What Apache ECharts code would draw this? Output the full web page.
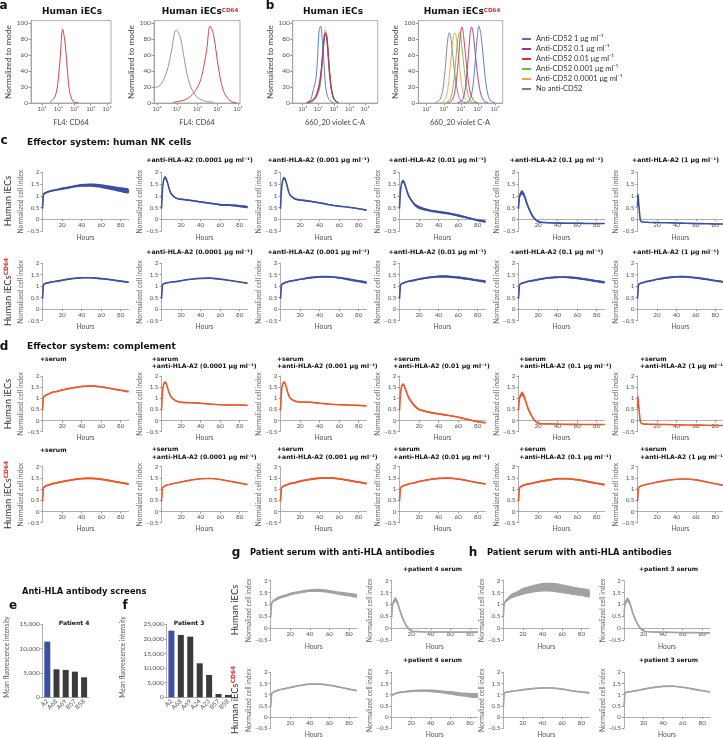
<!DOCTYPE html>
<html>
<head>
<meta charset="utf-8">
<script src="https://cdn.jsdelivr.net/npm/echarts@6/dist/echarts.min.js"></script>
<style>html,body{margin:0;padding:0;background:#fff}#main{width:723px;height:738px}</style>
</head>
<body>
<div id="main"></div>
<script>
// ---- a: CD64 staining, x = log10 fluorescence, y = % of mode
var aIecX = [1.49, 1.8, 2.0, 2.15, 2.27, 2.42, 2.58, 2.72, 2.93, 3.25];
var aIecY = [1, 8, 29, 66, 92, 75, 37, 12, 2, 0];
var aCdGreyX = [-0.15, 0.15, 0.48, 0.72, 0.94, 1.14, 1.3, 1.55, 1.88, 2.29, 2.78];
var aCdGreyY = [19, 22, 39, 66, 91, 83, 62, 29, 10, 3, 1];
var aCdRedX = [0.8, 1.47, 1.96, 2.2, 2.45, 2.62, 2.78, 3.03, 3.27, 3.6, 3.94];
var aCdRedY = [1, 5, 18, 33, 66, 96, 87, 45, 16, 3, 0];

// ---- b: anti-CD52 binding (blue, purple, red, green, orange, grey)
var cd52Names = ['Anti-CD52 1 \u03bcg ml\u207b\u00b9', 'Anti-CD52 0.1 \u03bcg ml\u207b\u00b9', 'Anti-CD52 0.01 \u03bcg ml\u207b\u00b9',
  'Anti-CD52 0.001 \u03bcg ml\u207b\u00b9', 'Anti-CD52 0.0001 \u03bcg ml\u207b\u00b9', 'No anti-CD52'];
var cd52Colors = ['#4a78b8', '#a2308f', '#cf3340', '#6cb84c', '#f0a04e', '#808080'];
var bIecX = [
  [1.2, 1.5, 1.7, 1.85, 1.95, 2.05, 2.15, 2.25, 2.35, 2.45, 2.6, 2.8, 3.0],
  [1.3, 1.7, 1.9, 2.1, 2.25, 2.35, 2.45, 2.55, 2.65, 2.8, 3.0, 3.3],
  [1.3, 1.7, 1.9, 2.1, 2.25, 2.35, 2.45, 2.55, 2.65, 2.8, 3.0, 3.3],
  [1.3, 1.7, 1.9, 2.1, 2.25, 2.35, 2.45, 2.55, 2.65, 2.8, 3.0, 3.3],
  [1.3, 1.7, 1.9, 2.1, 2.25, 2.35, 2.45, 2.55, 2.65, 2.8, 3.0, 3.3],
  [1.3, 1.7, 1.9, 2.1, 2.25, 2.35, 2.45, 2.55, 2.65, 2.8, 3.0, 3.3]
];
var bIecY = [
  [0, 4, 18, 30, 55, 90, 96, 80, 55, 25, 8, 2, 0],
  [0, 5, 12, 28, 55, 75, 88, 80, 55, 22, 5, 0],
  [0, 4, 10, 25, 52, 78, 86, 85, 60, 25, 6, 0],
  [0, 3, 9, 22, 50, 75, 88, 82, 58, 24, 5, 0],
  [0, 3, 9, 24, 55, 82, 92, 78, 50, 20, 4, 0],
  [0, 3, 8, 20, 48, 72, 85, 80, 55, 22, 5, 0]
];
var bCdX = [
  [3.2, 3.5, 3.7, 3.85, 3.97, 4.05, 4.18, 4.32, 4.5, 4.7, 5.0],
  [2.8, 3.1, 3.3, 3.45, 3.55, 3.63, 3.75, 3.9, 4.1, 4.3, 4.6],
  [2.2, 2.5, 2.7, 2.88, 2.98, 3.06, 3.18, 3.33, 3.52, 3.75, 4.0],
  [2.1, 2.4, 2.6, 2.75, 2.86, 2.94, 3.05, 3.2, 3.4, 3.6, 3.9],
  [1.8, 2.1, 2.3, 2.45, 2.57, 2.66, 2.78, 2.93, 3.12, 3.35, 3.7],
  [1.5, 1.8, 2.0, 2.15, 2.25, 2.33, 2.45, 2.6, 2.8, 3.0, 3.3]
];
var bCdY = [
  [0, 3, 20, 55, 85, 96, 85, 55, 20, 4, 0],
  [0, 4, 25, 62, 88, 95, 82, 50, 18, 4, 0],
  [0, 4, 22, 60, 88, 95, 80, 48, 16, 3, 0],
  [0, 6, 30, 65, 85, 88, 72, 42, 12, 2, 0],
  [0, 5, 28, 62, 84, 88, 74, 44, 14, 3, 0],
  [0, 5, 25, 60, 82, 88, 75, 45, 15, 3, 0]
];

// ---- c/d/g/h: impedance, normalized cell index vs hours
var hrs = [0, 0.5, 1, 2, 3, 4, 6, 8, 10, 15, 20, 30, 40, 50, 60, 70, 80, 88];
var doses = ['0.0001', '0.001', '0.01', '0.1', '1'];

// c, NK cells, human iECs (no antibody, then doses)
var nkIecMean = [
  [0.45, 0.75, 1.05, 1.1, 1.12, 1.14, 1.17, 1.2, 1.22, 1.26, 1.3, 1.38, 1.44, 1.45, 1.41, 1.34, 1.26, 1.2],
  [0.45, 0.9, 1.3, 1.62, 1.76, 1.78, 1.58, 1.28, 1.08, 0.9, 0.85, 0.8, 0.74, 0.68, 0.62, 0.6, 0.56, 0.52],
  [0.45, 0.9, 1.28, 1.6, 1.73, 1.75, 1.55, 1.22, 1.02, 0.86, 0.82, 0.77, 0.7, 0.62, 0.56, 0.51, 0.45, 0.39],
  [0.45, 0.85, 1.2, 1.5, 1.6, 1.62, 1.42, 1.15, 0.95, 0.65, 0.5, 0.38, 0.31, 0.25, 0.16, 0.06, -0.04, -0.1],
  [0.45, 0.75, 0.95, 1.08, 1.13, 1.14, 1.0, 0.75, 0.52, 0.1, -0.1, -0.15, -0.16, -0.17, -0.17, -0.18, -0.18, -0.18],
  [0.55, 1.05, 0.8, 0.3, -0.05, -0.1, -0.12, -0.13, -0.13, -0.14, -0.14, -0.15, -0.16, -0.17, -0.18, -0.19, -0.2, -0.2]
];
var nkIecErr = [
  [0.05, 0.1, 0.05, 0.04, 0.04, 0.04, 0.04, 0.04, 0.04, 0.04, 0.05, 0.05, 0.06, 0.07, 0.08, 0.09, 0.1, 0.1],
  [0.05, 0.06, 0.06, 0.06, 0.06, 0.06, 0.05, 0.05, 0.04, 0.03, 0.03, 0.03, 0.03, 0.03, 0.04, 0.04, 0.05, 0.05],
  [0.05, 0.06, 0.06, 0.06, 0.06, 0.06, 0.05, 0.04, 0.03, 0.03, 0.03, 0.03, 0.03, 0.02, 0.02, 0.02, 0.02, 0.02],
  [0.05, 0.07, 0.07, 0.07, 0.07, 0.07, 0.07, 0.07, 0.06, 0.06, 0.06, 0.05, 0.05, 0.05, 0.05, 0.04, 0.04, 0.04],
  [0.08, 0.1, 0.1, 0.1, 0.1, 0.1, 0.1, 0.1, 0.08, 0.06, 0.03, 0.02, 0.02, 0.02, 0.02, 0.02, 0.02, 0.02],
  [0.1, 0.08, 0.08, 0.05, 0.03, 0.02, 0.01, 0.01, 0.01, 0.01, 0.01, 0.01, 0.01, 0.01, 0.01, 0.01, 0.01, 0.01]
];
// c, NK cells, human iECs CD64
var nkCdMean = [
  [0.45, 0.75, 1.05, 1.1, 1.12, 1.13, 1.15, 1.17, 1.19, 1.22, 1.26, 1.33, 1.37, 1.37, 1.33, 1.28, 1.22, 1.17],
  [0.45, 0.75, 1.05, 1.1, 1.12, 1.13, 1.15, 1.16, 1.18, 1.2, 1.24, 1.3, 1.34, 1.35, 1.31, 1.25, 1.18, 1.13],
  [0.45, 0.75, 1.05, 1.1, 1.12, 1.14, 1.17, 1.2, 1.22, 1.26, 1.3, 1.37, 1.41, 1.41, 1.37, 1.3, 1.22, 1.16],
  [0.45, 0.75, 1.05, 1.1, 1.12, 1.14, 1.17, 1.2, 1.22, 1.26, 1.31, 1.38, 1.42, 1.42, 1.38, 1.32, 1.25, 1.2],
  [0.45, 0.75, 1.05, 1.1, 1.12, 1.14, 1.16, 1.19, 1.21, 1.25, 1.29, 1.36, 1.39, 1.39, 1.35, 1.29, 1.22, 1.17],
  [0.45, 0.75, 1.05, 1.1, 1.12, 1.14, 1.16, 1.19, 1.21, 1.25, 1.3, 1.37, 1.41, 1.41, 1.37, 1.31, 1.24, 1.19]
];
var nkCdErr = [
  [0.05, 0.08, 0.04, 0.03, 0.03, 0.03, 0.03, 0.03, 0.03, 0.03, 0.03, 0.03, 0.03, 0.03, 0.03, 0.03, 0.03, 0.03],
  [0.05, 0.08, 0.03, 0.02, 0.02, 0.02, 0.02, 0.02, 0.02, 0.02, 0.02, 0.02, 0.02, 0.02, 0.02, 0.02, 0.02, 0.02],
  [0.05, 0.08, 0.04, 0.03, 0.03, 0.03, 0.03, 0.03, 0.03, 0.03, 0.03, 0.04, 0.04, 0.04, 0.04, 0.05, 0.05, 0.05],
  [0.05, 0.08, 0.04, 0.03, 0.03, 0.03, 0.03, 0.03, 0.03, 0.04, 0.04, 0.04, 0.05, 0.05, 0.05, 0.05, 0.05, 0.05],
  [0.05, 0.08, 0.04, 0.03, 0.03, 0.03, 0.03, 0.03, 0.03, 0.04, 0.04, 0.04, 0.04, 0.04, 0.05, 0.05, 0.05, 0.05],
  [0.05, 0.08, 0.04, 0.03, 0.03, 0.03, 0.03, 0.03, 0.03, 0.03, 0.03, 0.04, 0.04, 0.04, 0.04, 0.04, 0.04, 0.04]
];
// d, complement, human iECs
var cmIecMean = [
  [0.45, 0.75, 1.03, 1.1, 1.13, 1.15, 1.19, 1.23, 1.27, 1.31, 1.37, 1.46, 1.53, 1.55, 1.51, 1.44, 1.36, 1.3],
  [0.45, 0.9, 1.3, 1.6, 1.7, 1.72, 1.5, 1.22, 1.05, 0.88, 0.82, 0.8, 0.78, 0.74, 0.71, 0.7, 0.7, 0.68],
  [0.45, 0.9, 1.3, 1.6, 1.7, 1.72, 1.48, 1.18, 1.0, 0.87, 0.83, 0.82, 0.78, 0.74, 0.71, 0.7, 0.68, 0.66],
  [0.45, 0.85, 1.2, 1.5, 1.6, 1.62, 1.42, 1.18, 0.98, 0.68, 0.5, 0.38, 0.3, 0.23, 0.15, 0.05, -0.05, -0.1],
  [0.45, 0.8, 1.0, 1.12, 1.18, 1.2, 1.05, 0.78, 0.52, 0.1, -0.12, -0.15, -0.16, -0.17, -0.17, -0.18, -0.18, -0.18],
  [0.55, 1.08, 0.8, 0.3, -0.05, -0.13, -0.15, -0.16, -0.16, -0.17, -0.17, -0.18, -0.19, -0.2, -0.2, -0.21, -0.22, -0.22]
];
var cmIecErr = [
  [0.05, 0.1, 0.04, 0.03, 0.03, 0.03, 0.03, 0.03, 0.03, 0.03, 0.03, 0.03, 0.03, 0.03, 0.03, 0.03, 0.03, 0.03],
  [0.05, 0.06, 0.05, 0.05, 0.05, 0.05, 0.04, 0.04, 0.03, 0.03, 0.03, 0.02, 0.02, 0.02, 0.02, 0.02, 0.02, 0.02],
  [0.05, 0.06, 0.05, 0.05, 0.05, 0.05, 0.04, 0.04, 0.03, 0.03, 0.03, 0.03, 0.02, 0.02, 0.02, 0.02, 0.02, 0.02],
  [0.05, 0.06, 0.06, 0.06, 0.06, 0.06, 0.06, 0.05, 0.05, 0.05, 0.04, 0.04, 0.04, 0.03, 0.03, 0.03, 0.03, 0.03],
  [0.08, 0.1, 0.1, 0.1, 0.1, 0.1, 0.1, 0.09, 0.08, 0.05, 0.02, 0.02, 0.02, 0.02, 0.02, 0.02, 0.02, 0.02],
  [0.1, 0.08, 0.08, 0.05, 0.03, 0.02, 0.01, 0.01, 0.01, 0.01, 0.01, 0.01, 0.01, 0.01, 0.01, 0.01, 0.01, 0.01]
];
// d, complement, human iECs CD64
var cmCdMean = [
  [0.45, 0.75, 1.05, 1.1, 1.13, 1.15, 1.18, 1.21, 1.24, 1.28, 1.33, 1.41, 1.47, 1.48, 1.44, 1.37, 1.29, 1.23],
  [0.45, 0.75, 1.05, 1.1, 1.13, 1.15, 1.18, 1.21, 1.23, 1.27, 1.32, 1.4, 1.46, 1.47, 1.43, 1.35, 1.27, 1.2],
  [0.45, 0.75, 1.05, 1.1, 1.13, 1.15, 1.18, 1.22, 1.25, 1.29, 1.35, 1.43, 1.49, 1.5, 1.46, 1.39, 1.31, 1.25],
  [0.45, 0.75, 1.05, 1.1, 1.13, 1.15, 1.18, 1.21, 1.24, 1.28, 1.34, 1.42, 1.48, 1.49, 1.45, 1.37, 1.29, 1.23],
  [0.45, 0.75, 1.05, 1.1, 1.13, 1.15, 1.18, 1.21, 1.23, 1.27, 1.32, 1.4, 1.46, 1.46, 1.42, 1.34, 1.26, 1.2],
  [0.45, 0.75, 1.05, 1.1, 1.13, 1.15, 1.17, 1.2, 1.22, 1.26, 1.31, 1.39, 1.44, 1.45, 1.41, 1.33, 1.24, 1.17]
];
var cmCdErr = [
  [0.05, 0.1, 0.04, 0.04, 0.04, 0.04, 0.04, 0.04, 0.04, 0.04, 0.04, 0.04, 0.04, 0.04, 0.04, 0.04, 0.04, 0.04],
  [0.05, 0.1, 0.03, 0.02, 0.02, 0.02, 0.02, 0.02, 0.02, 0.02, 0.02, 0.02, 0.02, 0.02, 0.02, 0.02, 0.02, 0.02],
  [0.05, 0.1, 0.04, 0.04, 0.04, 0.04, 0.04, 0.04, 0.04, 0.04, 0.04, 0.04, 0.04, 0.04, 0.04, 0.04, 0.04, 0.04],
  [0.05, 0.1, 0.03, 0.03, 0.03, 0.03, 0.03, 0.03, 0.03, 0.03, 0.03, 0.03, 0.03, 0.03, 0.03, 0.03, 0.03, 0.03],
  [0.05, 0.1, 0.04, 0.04, 0.04, 0.04, 0.04, 0.04, 0.04, 0.04, 0.04, 0.04, 0.04, 0.04, 0.04, 0.04, 0.04, 0.04],
  [0.05, 0.1, 0.03, 0.02, 0.02, 0.02, 0.02, 0.02, 0.02, 0.02, 0.02, 0.02, 0.02, 0.02, 0.02, 0.02, 0.02, 0.02]
];
// g (patient 4) and h (patient 3): [no serum, +serum] for iECs then iECs CD64
var gIecMean = [
  [0.45, 0.8, 1.05, 1.12, 1.15, 1.18, 1.23, 1.27, 1.31, 1.36, 1.44, 1.52, 1.58, 1.59, 1.54, 1.47, 1.41, 1.36],
  [0.45, 0.8, 1.0, 1.12, 1.18, 1.2, 1.08, 0.8, 0.55, 0.1, -0.12, -0.15, -0.16, -0.16, -0.17, -0.17, -0.17, -0.17]
];
var gIecErr = [
  [0.05, 0.1, 0.05, 0.05, 0.05, 0.05, 0.06, 0.06, 0.06, 0.06, 0.06, 0.06, 0.06, 0.07, 0.07, 0.07, 0.08, 0.08],
  [0.08, 0.1, 0.1, 0.1, 0.1, 0.1, 0.1, 0.09, 0.08, 0.05, 0.02, 0.02, 0.02, 0.02, 0.02, 0.02, 0.02, 0.02]
];
var gCdMean = [
  [0.45, 0.75, 1.05, 1.1, 1.12, 1.14, 1.17, 1.2, 1.23, 1.27, 1.32, 1.41, 1.47, 1.47, 1.42, 1.34, 1.25, 1.18],
  [0.95, 0.98, 1.0, 1.02, 1.04, 1.06, 1.08, 1.1, 1.12, 1.14, 1.16, 1.18, 1.17, 1.13, 1.08, 1.02, 0.98, 0.96]
];
var gCdErr = [
  [0.05, 0.1, 0.03, 0.03, 0.03, 0.03, 0.03, 0.03, 0.03, 0.03, 0.03, 0.03, 0.03, 0.03, 0.03, 0.03, 0.03, 0.03],
  [0.05, 0.05, 0.04, 0.04, 0.04, 0.04, 0.04, 0.04, 0.04, 0.04, 0.05, 0.05, 0.06, 0.07, 0.08, 0.09, 0.1, 0.1]
];
var hIecMean = [
  [0.45, 0.8, 1.05, 1.12, 1.16, 1.2, 1.28, 1.34, 1.38, 1.46, 1.55, 1.65, 1.72, 1.72, 1.66, 1.59, 1.52, 1.46],
  [0.45, 0.8, 1.0, 1.12, 1.18, 1.19, 1.05, 0.78, 0.52, 0.1, -0.12, -0.16, -0.17, -0.18, -0.19, -0.19, -0.2, -0.2]
];
var hIecErr = [
  [0.05, 0.1, 0.06, 0.06, 0.07, 0.08, 0.09, 0.1, 0.11, 0.12, 0.14, 0.16, 0.18, 0.19, 0.19, 0.18, 0.17, 0.16],
  [0.08, 0.1, 0.1, 0.1, 0.1, 0.1, 0.1, 0.09, 0.08, 0.05, 0.02, 0.02, 0.02, 0.02, 0.02, 0.02, 0.02, 0.02]
];
var hCdMean = [
  [0.45, 0.75, 1.05, 1.1, 1.11, 1.12, 1.13, 1.15, 1.16, 1.19, 1.22, 1.27, 1.3, 1.3, 1.25, 1.18, 1.12, 1.08],
  [0.45, 0.75, 1.05, 1.1, 1.11, 1.12, 1.13, 1.15, 1.17, 1.2, 1.25, 1.32, 1.37, 1.38, 1.33, 1.26, 1.18, 1.12]
];
var hCdErr = [
  [0.05, 0.1, 0.03, 0.03, 0.03, 0.03, 0.03, 0.03, 0.03, 0.03, 0.03, 0.03, 0.03, 0.03, 0.03, 0.03, 0.03, 0.03],
  [0.05, 0.1, 0.03, 0.03, 0.03, 0.03, 0.03, 0.03, 0.03, 0.03, 0.03, 0.03, 0.03, 0.03, 0.03, 0.03, 0.03, 0.03]
];

// ---- e/f: anti-HLA antibody screens (MFI)
var p4Alleles = ['A2', 'A68', 'A69', 'B57', 'B58'];
var p4Mfi = [11440, 5750, 5620, 5270, 4110];
var p3Alleles = ['A2', 'A68', 'A69', 'A24', 'A23', 'B57', 'B58'];
var p3Mfi = [22830, 21350, 20780, 11640, 7650, 1140, 800];

var FONT = 'Lato, "DejaVu Sans", sans-serif';
var BFONT = '"DejaVu Sans", sans-serif';
var BLUE = '#3d4fa3', ORANGE = '#e9592b', GREY = '#a2a2a2', RED = '#d6302f';
var AX = '#9a9a9a', TXT = '#555';
var sup = ['\u2070', '\u00b9', '\u00b2', '\u00b3', '\u2074', '\u2075'];

var grid = [], xAxis = [], yAxis = [], series = [], graphic = [];

function label(x, y, text, size, opts) {
  opts = opts || {};
  graphic.push({
    type: 'text', x: x, y: y, rotation: opts.rot || 0, silent: true, z: 100,
    style: {
      text: text, fontSize: size, fontFamily: opts.bold ? BFONT : FONT, fontWeight: opts.bold ? 'bold' : 'normal',
      fill: opts.color || '#333', align: opts.align || 'center', verticalAlign: 'middle',
      lineHeight: opts.lh, rich: opts.rich
    }
  });
}
function cdLabel(x, y, size, bold, rot) { // "Human iECs" with red CD64 superscript
  label(x, y, '{t|Human iECs}{s|CD64}', size, {rot: rot, rich: {
    t: {fontSize: size, fontFamily: bold ? BFONT : FONT, fontWeight: bold ? 'bold' : 'normal', fill: bold ? '#111' : '#333'},
    s: {fontSize: size * 0.62, fontFamily: BFONT, fontWeight: 'bold', fill: RED, verticalAlign: 'top'}
  }});
}

// flow histogram panel
function histPlot(left, width, xmin, xmax, ticks, curves) {
  var k = grid.length;
  grid.push({left: left, top: 20.6, width: width, height: 82.4, show: true, borderColor: AX, borderWidth: 0.8});
  xAxis.push({type: 'value', gridIndex: k, min: xmin, max: xmax,
    axisLine: {onZero: false, lineStyle: {color: AX, width: 0.8}},
    axisTick: {customValues: ticks, length: 2.5, lineStyle: {color: AX}},
    axisLabel: {customValues: ticks, fontSize: 6, color: TXT, margin: 3, fontFamily: FONT,
      formatter: function (v) { return '10' + sup[Math.round(v)]; }},
    splitLine: {show: false}});
  yAxis.push({type: 'value', gridIndex: k, min: 0, max: 103,
    axisLine: {show: true, onZero: false, lineStyle: {color: AX, width: 0.8}},
    axisTick: {show: true, customValues: [0, 20, 40, 60, 80, 100], length: 2.5, lineStyle: {color: AX}},
    axisLabel: {customValues: [0, 20, 40, 60, 80, 100], fontSize: 6.5, color: TXT, margin: 3, fontFamily: FONT},
    splitLine: {show: false}});
  curves.forEach(function (c) {
    series.push({type: 'line', name: c.name, xAxisIndex: k, yAxisIndex: k, color: c.color,
      data: c.x.map(function (v, i) { return [v, c.y[i]]; }),
      smooth: 0.35, symbol: 'none', lineStyle: {width: 0.9, color: c.color}});
  });
  label(left - 22.5, 62, 'Normalized to mode', 8.3, {rot: Math.PI / 2, color: '#444'});
}

// time course panel: mean line plus error band; x axis sits on y = 0
function tsPlot(x0, top, h, mean, err, color) {
  var k = grid.length;
  grid.push({left: x0, top: top, width: 86, height: h});
  xAxis.push({type: 'value', gridIndex: k, min: 0, max: 88, offset: -h / 5,
    axisLine: {onZero: false, lineStyle: {color: AX, width: 0.8}},
    axisTick: {customValues: [20, 40, 60, 80], length: 2, lineStyle: {color: AX}},
    axisLabel: {customValues: [20, 40, 60, 80], fontSize: 6.3, color: TXT, margin: 2.5, fontFamily: FONT},
    splitLine: {show: false}});
  yAxis.push({type: 'value', gridIndex: k, min: -0.5, max: 2, interval: 0.5,
    axisLine: {show: true, onZero: false, lineStyle: {color: AX, width: 0.8}},
    axisTick: {show: true, length: 2, lineStyle: {color: AX}},
    axisLabel: {fontSize: 6.3, color: TXT, margin: 3, fontFamily: FONT,
      formatter: function (v) { return v < 0 ? '\u2212' + (-v) : String(v); }},
    splitLine: {show: false}});
  series.push({type: 'custom', xAxisIndex: k, yAxisIndex: k, silent: true, z: 3,
    data: [[hrs[0], mean[0]]], encode: {x: 0, y: 1},
    renderItem: function (params, api) {
      var up = [], lo = [];
      for (var i = 0; i < hrs.length; i++) {
        up.push(api.coord([hrs[i], mean[i] + err[i]]));
        lo.unshift(api.coord([hrs[i], mean[i] - err[i]]));
      }
      return {type: 'polygon', shape: {points: up.concat(lo), smooth: 0.25}, style: {fill: color}};
    }});
  series.push({type: 'line', xAxisIndex: k, yAxisIndex: k, silent: true, z: 4,
    data: hrs.map(function (t, i) { return [t, mean[i]]; }),
    smooth: 0.3, symbol: 'none', lineStyle: {width: 1.6, color: color}});
  label(x0 - 21.5, top + h / 2, 'Normalized cell index', 6.8, {rot: Math.PI / 2, color: '#666'});
  label(x0 + 43, top + h + 6.5, 'Hours', 6.8, {color: TXT});
}

function barPlot(left, width, max, cats, vals) {
  var k = grid.length;
  grid.push({left: left, top: 624.3, width: width, height: 73});
  xAxis.push({type: 'category', gridIndex: k, data: cats,
    axisLine: {lineStyle: {color: AX, width: 0.8}}, axisTick: {show: false},
    axisLabel: {rotate: 45, interval: 0, fontSize: 6.3, color: TXT, margin: 3, fontFamily: FONT}});
  yAxis.push({type: 'value', gridIndex: k, min: 0, max: max, interval: 5000,
    axisLine: {show: true, lineStyle: {color: AX, width: 0.8}},
    axisTick: {show: true, length: 2, lineStyle: {color: AX}},
    axisLabel: {fontSize: 6.5, color: TXT, margin: 3, fontFamily: FONT,
      formatter: function (v) { return v.toLocaleString('en-US'); }},
    splitLine: {show: false}});
  series.push({type: 'bar', xAxisIndex: k, yAxisIndex: k, barWidth: 6,
    data: vals.map(function (v, i) { return {value: v, itemStyle: {color: i === 0 ? BLUE : '#3b3b3b'}}; })});
}

// ---------- a ----------
histPlot(31, 80, 0.32, 5.25, [1, 2, 3, 4, 5], [
  {x: aIecX, y: aIecY, color: RED, name: 'CD64 iECs'}]);
histPlot(154, 86, -0.15, 4.1, [0, 1, 2, 3, 4], [
  {x: aCdGreyX, y: aCdGreyY, color: '#8a8a8a', name: 'ctrl'},
  {x: aCdRedX, y: aCdRedY, color: RED, name: 'CD64'}]);
// ---------- b ----------
var bl = [], br = [];
for (var i = 5; i >= 0; i--) {
  bl.push({x: bIecX[i], y: bIecY[i], color: cd52Colors[i], name: cd52Names[i]});
  br.push({x: bCdX[i], y: bCdY[i], color: cd52Colors[i], name: cd52Names[i]});
}
histPlot(292.7, 85, 0.36, 5.81, [1, 2, 3, 4, 5], bl);
histPlot(418.3, 84.4, 0.51, 5.45, [1, 2, 3, 4, 5], br);

label(3.5, 5.5, 'a', 12, {bold: true, color: '#111'});
label(270, 5.5, 'b', 12, {bold: true, color: '#111'});
label(72, 11.7, 'Human iECs', 9, {bold: true, color: '#111'});
cdLabel(200, 11.7, 9, true, 0);
label(333, 11.7, 'Human iECs', 9, {bold: true, color: '#111'});
cdLabel(462, 11.7, 9, true, 0);
label(71, 123, 'FL4: CD64', 7.5, {color: '#444'});
label(197, 123, 'FL4: CD64', 7.5, {color: '#444'});
label(335, 123, '660_20 violet C-A', 7.5, {color: '#444'});
label(460, 123, '660_20 violet C-A', 7.5, {color: '#444'});

// ---------- c / d ----------
var colX = [42.5, 161.5, 280.5, 399.5, 518.5, 637.5];
var dTitleX = [40, 151.7, 277, 393.3, 519.3, 640];
for (var j = 0; j < 6; j++) {
  tsPlot(colX[j], 172.3, 58.7, nkIecMean[j], nkIecErr[j], BLUE);
  tsPlot(colX[j], 263.3, 57.2, nkCdMean[j], nkCdErr[j], BLUE);
  tsPlot(colX[j], 376, 55.7, cmIecMean[j], cmIecErr[j], ORANGE);
  tsPlot(colX[j], 466.7, 56, cmCdMean[j], cmCdErr[j], ORANGE);
  if (j > 0) {
    var t = '+anti-HLA-A2 (' + doses[j - 1] + ' \u03bcg ml\u207b\u00b9)';
    label(colX[j] + 38, 160, t, 6.2, {bold: true, color: '#111'});
    label(colX[j] + 38, 252.3, t, 6.2, {bold: true, color: '#111'});
    label(dTitleX[j], 363, '+serum\n' + t, 6.1, {bold: true, color: '#111', align: 'left', lh: 7.4});
    label(dTitleX[j], 453.5, '+serum\n' + t, 6.1, {bold: true, color: '#111', align: 'left', lh: 7.4});
  } else {
    label(dTitleX[j], 359.3, '+serum', 6.1, {bold: true, color: '#111', align: 'left'});
    label(dTitleX[j], 450, '+serum', 6.1, {bold: true, color: '#111', align: 'left'});
  }
}
label(4, 141, 'c', 12, {bold: true, color: '#111'});
label(27, 143, 'Effector system: human NK cells', 9, {bold: true, color: '#111', align: 'left'});
label(4, 347, 'd', 12, {bold: true, color: '#111'});
label(27, 347, 'Effector system: complement', 9, {bold: true, color: '#111', align: 'left'});
label(8, 201, 'Human iECs', 9.5, {rot: Math.PI / 2});
cdLabel(8, 292, 9.5, false, Math.PI / 2);
label(8, 404, 'Human iECs', 9.5, {rot: Math.PI / 2});
cdLabel(8, 495, 9.5, false, Math.PI / 2);

// ---------- e / f ----------
barPlot(42.7, 46, 15000, p4Alleles, p4Mfi);
barPlot(166.7, 66, 25000, p3Alleles, p3Mfi);
label(22, 591.7, 'Anti-HLA antibody screens', 8.3, {bold: true, color: '#111', align: 'left'});
label(13, 606, 'e', 12, {bold: true, color: '#111'});
label(125, 606, 'f', 12, {bold: true, color: '#111'});
label(74, 623.3, 'Patient 4', 6, {bold: true, color: '#111'});
label(189, 623.3, 'Patient 3', 6, {bold: true, color: '#111'});
label(6.7, 657, 'Mean fluorescence intensity', 6.6, {rot: Math.PI / 2, color: '#555'});
label(123.3, 657, 'Mean fluorescence intensity', 6.6, {rot: Math.PI / 2, color: '#555'});

// ---------- g / h ----------
var ghX = [270.7, 391.7, 503.3, 624];
tsPlot(ghX[0], 580.7, 59.3, gIecMean[0], gIecErr[0], GREY);
tsPlot(ghX[1], 580.7, 59.3, gIecMean[1], gIecErr[1], GREY);
tsPlot(ghX[2], 580.7, 59.3, hIecMean[0], hIecErr[0], GREY);
tsPlot(ghX[3], 580.7, 59.3, hIecMean[1], hIecErr[1], GREY);
tsPlot(ghX[0], 672.3, 56, gCdMean[0], gCdErr[0], GREY);
tsPlot(ghX[1], 672.3, 56, gCdMean[1], gCdErr[1], GREY);
tsPlot(ghX[2], 672.3, 56, hCdMean[0], hCdErr[0], GREY);
tsPlot(ghX[3], 672.3, 56, hCdMean[1], hCdErr[1], GREY);
label(236, 553, 'g', 12, {bold: true, color: '#111'});
label(250, 553, 'Patient serum with anti-HLA antibodies', 8.3, {bold: true, color: '#111', align: 'left'});
label(473, 553, 'h', 12, {bold: true, color: '#111'});
label(487, 553, 'Patient serum with anti-HLA antibodies', 8.3, {bold: true, color: '#111', align: 'left'});
label(432.5, 569.3, '+patient 4 serum', 6, {bold: true, color: '#111'});
label(432.5, 660, '+patient 4 serum', 6, {bold: true, color: '#111'});
label(668.5, 569.3, '+patient 3 serum', 6, {bold: true, color: '#111'});
label(668.5, 660, '+patient 3 serum', 6, {bold: true, color: '#111'});
label(235, 610, 'Human iECs', 9.5, {rot: Math.PI / 2});
cdLabel(235, 700, 9.5, false, Math.PI / 2);

var chart = echarts.init(document.getElementById('main'), null, {renderer: 'canvas'});
chart.setOption({
  animation: false,
  backgroundColor: '#fff',
  textStyle: {fontFamily: FONT},
  legend: {
    orient: 'vertical', left: 517, top: 30, itemWidth: 9, itemHeight: 2, itemGap: 2, icon: 'rect',
    textStyle: {fontSize: 7.5, color: '#333', fontFamily: FONT, lineHeight: 8},
    data: cd52Names, selectedMode: false
  },
  grid: grid, xAxis: xAxis, yAxis: yAxis, series: series, graphic: graphic
});
</script>
</body>
</html>
